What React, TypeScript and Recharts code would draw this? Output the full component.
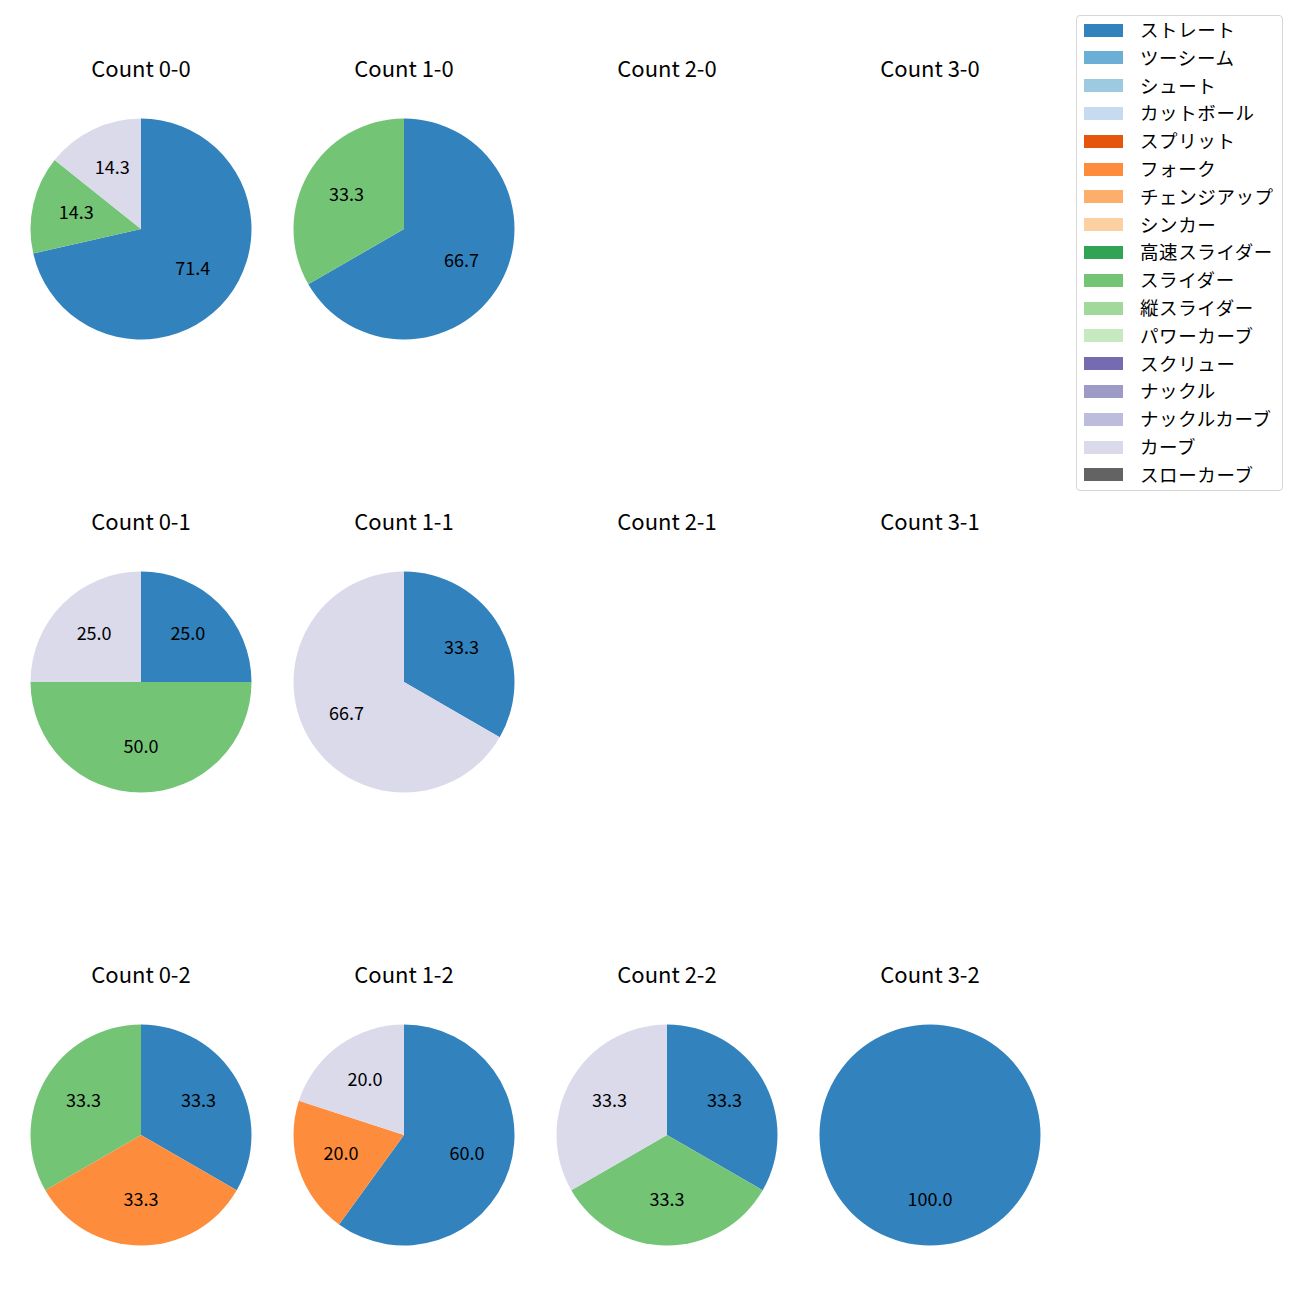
import React from 'react';
import { PieChart, Pie, Cell } from 'recharts';

const pitchTypes = [
  'ストレート', 'ツーシーム', 'シュート', 'カットボール', 'スプリット', 'フォーク',
  'チェンジアップ', 'シンカー', '高速スライダー', 'スライダー', '縦スライダー', 'パワーカーブ',
  'スクリュー', 'ナックル', 'ナックルカーブ', 'カーブ', 'スローカーブ',
];
const pitchColors = [
  '#3182bd', '#6baed6', '#9ecae1', '#c6dbef', '#e6550d', '#fd8d3c',
  '#fdae6b', '#fdd0a2', '#31a354', '#74c476', '#a1d99b', '#c7e9c0',
  '#756bb1', '#9e9ac8', '#bcbddc', '#dadaeb', '#636363',
];

const countTitles = [
  'Count 0-0', 'Count 1-0', 'Count 2-0', 'Count 3-0',
  'Count 0-1', 'Count 1-1', 'Count 2-1', 'Count 3-1',
  'Count 0-2', 'Count 1-2', 'Count 2-2', 'Count 3-2',
];

// pitch counts per count situation (same order as countTitles)
const straightCounts = [5, 2, 0, 0, 1, 1, 0, 0, 1, 3, 1, 1];
const forkCounts = [0, 0, 0, 0, 0, 0, 0, 0, 1, 1, 0, 0];
const sliderCounts = [1, 1, 0, 0, 2, 0, 0, 0, 1, 0, 1, 0];
const curveCounts = [1, 0, 0, 0, 1, 2, 0, 0, 0, 1, 1, 0];

const seriesByPitch: Record<string, number[]> = {
  'ストレート': straightCounts,
  'フォーク': forkCounts,
  'スライダー': sliderCounts,
  'カーブ': curveCounts,
};

const colX = [141, 404, 667, 930];
const rowY = [229, 682, 1135];
const R = 110.5;
const FONT = '"Noto Sans CJK JP", "Noto Sans", sans-serif';
const RAD = Math.PI / 180;

const renderLabel = (props: any) => {
  const { cx, cy, midAngle, outerRadius, percent } = props;
  const r = outerRadius * 0.6;
  const x = cx + r * Math.cos(-midAngle * RAD);
  const y = cy + r * Math.sin(-midAngle * RAD) - 3;
  return (
    <text x={x} y={y} textAnchor="middle" dominantBaseline="central" fill="#000"
      fontSize={18} fontFamily={FONT}>
      {(percent * 100).toFixed(1)}
    </text>
  );
};

export default function App() {
  const pies = countTitles.map((title, i) => {
    const data = pitchTypes
      .map((name, k) => ({ name, value: seriesByPitch[name] ? seriesByPitch[name][i] : 0, color: pitchColors[k] }))
      .filter((d) => d.value > 0);
    return { title, data, cx: colX[i % 4], cy: rowY[Math.floor(i / 4)] };
  });

  return (
    <div style={{ position: 'absolute', left: 0, top: 0, width: 1300, height: 1300, background: '#fff', fontFamily: FONT }}>
      <PieChart width={1300} height={1300} margin={{ top: 0, right: 0, bottom: 0, left: 0 }}
        style={{ position: 'absolute', left: 0, top: 0 }}>
        {pies.filter((p) => p.data.length > 0).map((p, idx) => (
          <Pie
            key={idx}
            data={p.data}
            dataKey="value"
            nameKey="name"
            cx={p.cx}
            cy={p.cy}
            outerRadius={R}
            innerRadius={0}
            startAngle={90}
            endAngle={-270}
            stroke="none"
            label={renderLabel}
            labelLine={false}
            isAnimationActive={false}
          >
            {p.data.map((d, j) => (
              <Cell key={j} fill={d.color} />
            ))}
          </Pie>
        ))}
      </PieChart>
      {pies.map((p, idx) => (
        <div key={idx} style={{
          position: 'absolute', left: p.cx - 100, width: 200, top: p.cy - 160 - 16, height: 28,
          lineHeight: '28px', textAlign: 'center', fontSize: 22, color: '#000',
        }}>{p.title}</div>
      ))}
      <div style={{
        position: 'absolute', left: 1076, top: 15, width: 205, height: 474,
        border: '1px solid #d6d6d6', borderRadius: 4, background: '#fff',
      }}>
        {pitchTypes.map((name, k) => (
          <div key={k} style={{ position: 'absolute', left: 0, top: 14 + k * 27.8 - 14, height: 28, width: 205 }}>
            <div style={{ position: 'absolute', left: 7, top: 7.5, width: 39, height: 13, background: pitchColors[k] }} />
            <div style={{ position: 'absolute', left: 63, top: -1, height: 28, lineHeight: '28px', fontSize: 18.5, letterSpacing: 0.6, color: '#000', whiteSpace: 'nowrap' }}>{name}</div>
          </div>
        ))}
      </div>
    </div>
  );
}
